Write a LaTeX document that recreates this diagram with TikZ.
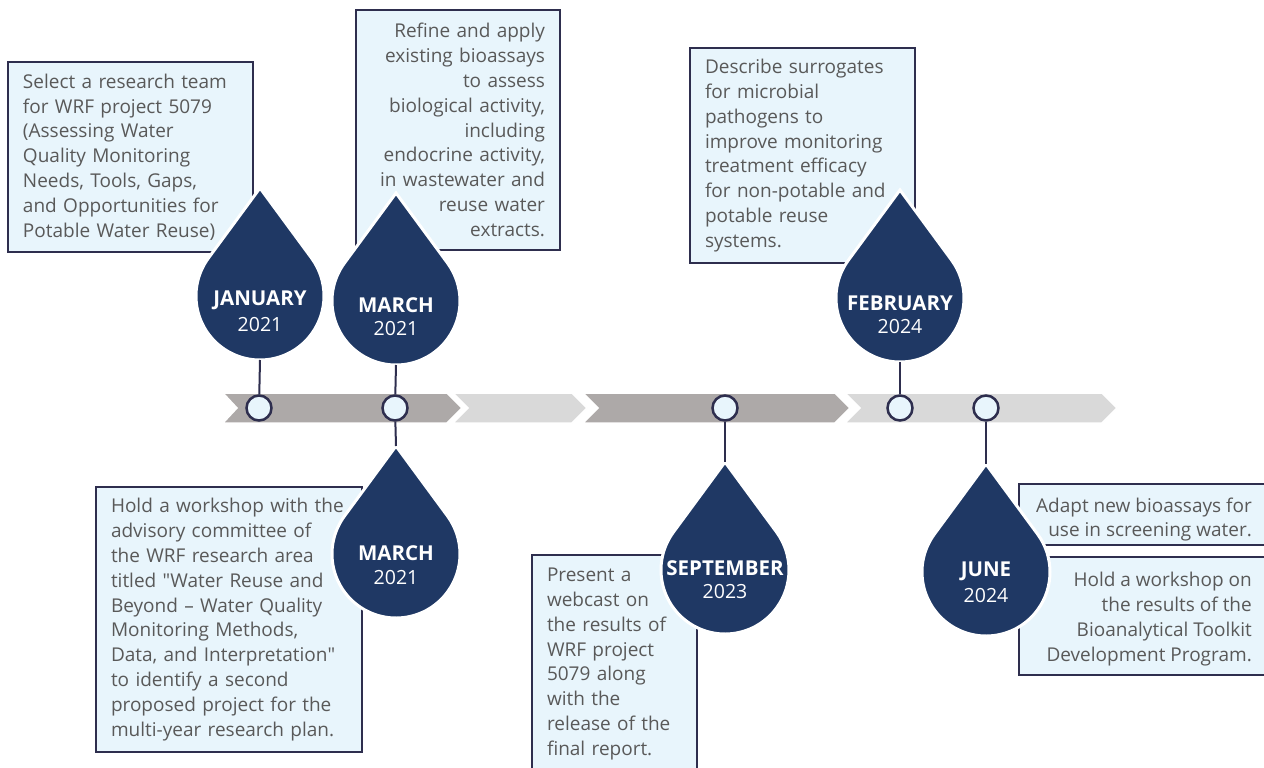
\documentclass[tikz,border=0pt]{standalone}
\usepackage{fontspec}
\setmainfont{Open Sans}

\definecolor{dropblue}{RGB}{31,56,100}
\definecolor{boxline}{RGB}{46,46,78}
\definecolor{boxfill}{RGB}{232,245,252}
\definecolor{textgrey}{RGB}{89,89,89}
\definecolor{chevdark}{RGB}{173,169,168}
\definecolor{chevlight}{RGB}{217,217,217}

\tikzset{
  note/.style={draw=boxline, line width=2pt, fill=boxfill, text=textgrey,
    inner xsep=15pt, inner ysep=0pt, font=\fontsize{19}{24.8}\selectfont},
  notetext/.style={text=textgrey, inner sep=0pt, font=\fontsize{19}{24.8}\selectfont},
  dot/.style={circle, draw=boxline, line width=2.5pt, fill=boxfill,
    minimum size=25pt, inner sep=0pt},
  stem/.style={draw=boxline, line width=2pt},
  month/.style={text=white, font=\fontsize{20.5}{22}\selectfont\bfseries},
  year/.style={text=white, font=\fontsize{19.5}{22}\selectfont},
  chev/.style={draw=white, line width=1.5pt},
  drop/.pic={
    \filldraw[fill=dropblue, draw=white, line width=3pt]
      (0,-108) -- (216.34:64) arc[start angle=216.34, end angle=-36.34, radius=64] -- cycle;
    \coordinate (-top) at (0,-108);
    \coordinate (-bot) at (0,64);
  }
}

\begin{document}
\begin{tikzpicture}[x=1pt,y=-1pt]

\useasboundingbox (0,0) rectangle (1264,768);

% timeline
\filldraw[chev, fill=chevdark]
(223,393) -- (447,393) -- (462,408) -- (447,423) -- (223,423) -- (237,408) -- cycle;
\filldraw[chev, fill=chevlight]
(453,393) -- (572,393) -- (587,408) -- (572,423) -- (453,423) -- (468,408) -- cycle;
\filldraw[chev, fill=chevdark]
(583,393) -- (835,393) -- (850,408) -- (835,423) -- (583,423) -- (598,408) -- cycle;
\filldraw[chev, fill=chevlight]
(845,393) -- (1102,393) -- (1117,408) -- (1102,423) -- (845,423) -- (860,408) -- cycle;

% boxes
\node[note, align=left, text width=215pt, minimum width=245pt, minimum height=190pt]
(sel) at (130.5,157) {Select a research team\\for WRF project 5079\\(Assessing Water\\Quality Monitoring\\Needs, Tools, Gaps,\\and Opportunities for\\Potable Water Reuse)};

\node[note, align=right, text width=174pt, minimum width=204pt, minimum height=240pt]
(refine) at (458,130) {Refine and apply\\existing bioassays\\to assess\\biological activity,\\including\\endocrine activity,\\in wastewater and\\reuse water\\extracts.};

\node[note, align=left, text width=236pt, minimum width=266pt, minimum height=265pt]
(advisory) at (229,619.5) {Hold a workshop with the\\advisory committee of\\the WRF research area\\titled \textquotedbl Water Reuse and\\Beyond -- Water Quality\\Monitoring Methods,\\Data, and Interpretation\textquotedbl\\to identify a second\\proposed project for the\\multi-year research plan.};

\node[note, align=left, text width=135pt, minimum width=165pt, minimum height=218pt]
(webcast) at (614.5,664) {Present a\\webcast on\\the results of\\WRF project\\5079 along\\with the\\release of the\\final report.};

\node[note, align=left, text width=195pt, minimum width=225pt, minimum height=215pt]
(surrogate) at (802.5,155.5) {Describe surrogates\\for microbial\\pathogens to\\improve monitoring\\treatment efficacy\\for non-potable and\\potable reuse\\systems.};

\node[note, minimum width=247pt, minimum height=61pt] (adapt) at (1142.5,514.5) {};
\node[notetext, align=right, anchor=east] (adapttext) at ([xshift=-15pt,yshift=-5pt]adapt.east)
{Adapt new bioassays for\\use in screening water.};

\node[note, minimum width=247pt, minimum height=118pt] (toolkit) at (1142.5,616) {};
\node[notetext, align=right, anchor=east] (toolkittext) at ([xshift=-15pt,yshift=-3pt]toolkit.east)
{Hold a workshop on\\the results of the\\Bioanalytical Toolkit\\Development Program.};

% drops
\pic (jan) at (260,296) {drop};
\pic (martop) at (396,301) {drop};
\pic (feb) at (900,298) {drop};
\pic (marbot) at (396,554) {drop};
\pic (sep) at (725,570) {drop};
\pic (jun) at (986,572) {drop};

% circles on the timeline
\node[dot] (t1) at (259,408) {};
\node[dot] (t2) at (395,408) {};
\node[dot] (t3) at (725,408) {};
\node[dot] (t4) at (900,408) {};
\node[dot] (t5) at (986,408) {};

\draw[stem] (jan-bot) -- (t1);
\draw[stem] (martop-bot) -- (t2);
\draw[stem] (t2) -- (marbot-top);
\draw[stem] (t3) -- (sep-top);
\draw[stem] (feb-bot) -- (t4);
\draw[stem] (t5) -- (jun-top);

% dates
\node[month] (janm) at (260,300) {JANUARY};
\node[year] (jany) at (260,325) {2021};
\node[month] (martopm) at (396,305) {MARCH};
\node[year] (martopy) at (396,329) {2021};
\node[month] (febm) at (900,303) {FEBRUARY};
\node[year] (feby) at (900,327) {2024};
\node[month] (marbotm) at (396,553) {MARCH};
\node[year] (marboty) at (396,578) {2021};
\node[month] (sepm) at (725,568) {SEPTEMBER};
\node[year] (sepy) at (725,592) {2023};
\node[month] (junm) at (986,571) {JUNE};
\node[year] (juny) at (986,596) {2024};

\end{tikzpicture}
\end{document}
